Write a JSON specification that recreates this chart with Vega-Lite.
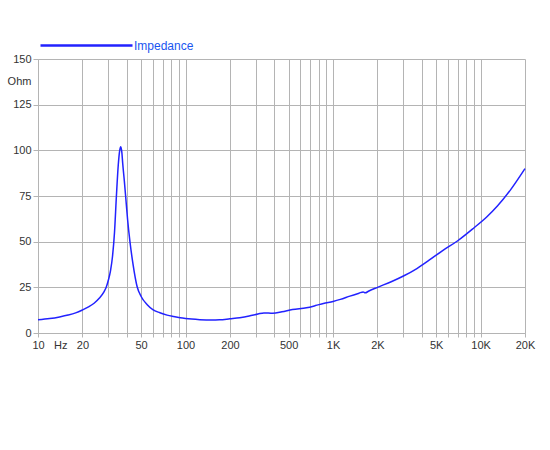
{
  "$schema": "https://vega.github.io/schema/vega-lite/v6.json",
  "width": 487,
  "height": 274,
  "autosize": "none",
  "padding": {"left": 38, "top": 59, "right": 25, "bottom": 117},
  "background": "white",
  "config": {
    "view": {"stroke": null},
    "font": "Liberation Sans",
    "axis": {
      "labelFont": "Liberation Sans",
      "labelFontSize": 11,
      "labelColor": "#333333",
      "gridColor": "#b4b4b4",
      "gridWidth": 1,
      "domainColor": "#b4b4b4",
      "tickColor": "#b4b4b4"
    }
  },
  "data": {
    "values": [
      {"f": 10, "z": 7.2, "s": "Impedance"},
      {"f": 12, "z": 7.9, "s": "Impedance"},
      {"f": 14, "z": 8.8, "s": "Impedance"},
      {"f": 16, "z": 9.8, "s": "Impedance"},
      {"f": 18, "z": 11.0, "s": "Impedance"},
      {"f": 20, "z": 12.6, "s": "Impedance"},
      {"f": 22, "z": 14.3, "s": "Impedance"},
      {"f": 24, "z": 16.3, "s": "Impedance"},
      {"f": 26, "z": 19.0, "s": "Impedance"},
      {"f": 28, "z": 22.5, "s": "Impedance"},
      {"f": 29, "z": 25.0, "s": "Impedance"},
      {"f": 30, "z": 29.0, "s": "Impedance"},
      {"f": 31, "z": 34.0, "s": "Impedance"},
      {"f": 32, "z": 42.0, "s": "Impedance"},
      {"f": 33, "z": 55.0, "s": "Impedance"},
      {"f": 34, "z": 75.0, "s": "Impedance"},
      {"f": 35, "z": 92.0, "s": "Impedance"},
      {"f": 35.8, "z": 100.0, "s": "Impedance"},
      {"f": 36.4, "z": 102.0, "s": "Impedance"},
      {"f": 37, "z": 99.0, "s": "Impedance"},
      {"f": 37.5, "z": 93.0, "s": "Impedance"},
      {"f": 38.5, "z": 83.0, "s": "Impedance"},
      {"f": 39.3, "z": 74.6, "s": "Impedance"},
      {"f": 40.5, "z": 62.0, "s": "Impedance"},
      {"f": 42, "z": 50.0, "s": "Impedance"},
      {"f": 44, "z": 38.0, "s": "Impedance"},
      {"f": 47, "z": 25.3, "s": "Impedance"},
      {"f": 50, "z": 20.0, "s": "Impedance"},
      {"f": 55, "z": 15.5, "s": "Impedance"},
      {"f": 60, "z": 12.8, "s": "Impedance"},
      {"f": 67, "z": 11.1, "s": "Impedance"},
      {"f": 75, "z": 9.8, "s": "Impedance"},
      {"f": 83, "z": 9.0, "s": "Impedance"},
      {"f": 92, "z": 8.3, "s": "Impedance"},
      {"f": 100, "z": 7.9, "s": "Impedance"},
      {"f": 125, "z": 7.3, "s": "Impedance"},
      {"f": 150, "z": 7.1, "s": "Impedance"},
      {"f": 170, "z": 7.2, "s": "Impedance"},
      {"f": 200, "z": 7.8, "s": "Impedance"},
      {"f": 233, "z": 8.4, "s": "Impedance"},
      {"f": 270, "z": 9.3, "s": "Impedance"},
      {"f": 310, "z": 10.4, "s": "Impedance"},
      {"f": 340, "z": 11.0, "s": "Impedance"},
      {"f": 390, "z": 10.8, "s": "Impedance"},
      {"f": 450, "z": 11.6, "s": "Impedance"},
      {"f": 530, "z": 12.9, "s": "Impedance"},
      {"f": 660, "z": 13.8, "s": "Impedance"},
      {"f": 760, "z": 15.0, "s": "Impedance"},
      {"f": 860, "z": 16.2, "s": "Impedance"},
      {"f": 1000, "z": 17.3, "s": "Impedance"},
      {"f": 1120, "z": 18.4, "s": "Impedance"},
      {"f": 1300, "z": 20.2, "s": "Impedance"},
      {"f": 1500, "z": 21.8, "s": "Impedance"},
      {"f": 1600, "z": 22.5, "s": "Impedance"},
      {"f": 1650, "z": 22.0, "s": "Impedance"},
      {"f": 1750, "z": 23.0, "s": "Impedance"},
      {"f": 2000, "z": 25.0, "s": "Impedance"},
      {"f": 2500, "z": 28.2, "s": "Impedance"},
      {"f": 3000, "z": 31.2, "s": "Impedance"},
      {"f": 3700, "z": 35.3, "s": "Impedance"},
      {"f": 4500, "z": 40.0, "s": "Impedance"},
      {"f": 5500, "z": 45.0, "s": "Impedance"},
      {"f": 7000, "z": 50.5, "s": "Impedance"},
      {"f": 9000, "z": 57.5, "s": "Impedance"},
      {"f": 11000, "z": 63.5, "s": "Impedance"},
      {"f": 13000, "z": 69.5, "s": "Impedance"},
      {"f": 16000, "z": 78.5, "s": "Impedance"},
      {"f": 20000, "z": 90.0, "s": "Impedance"}
    ]
  },
  "mark": {"type": "line", "strokeWidth": 1.5, "interpolate": "monotone"},
  "encoding": {
    "x": {
      "field": "f",
      "type": "quantitative",
      "scale": {"type": "log", "domain": [10, 20000], "nice": false},
      "axis": {
        "title": null,
        "values": [10, 14.14, 20, 30, 40, 50, 60, 70, 80, 90, 100, 200, 300, 400, 500, 600, 700, 800, 900, 1000, 2000, 3000, 4000, 5000, 6000, 7000, 8000, 9000, 10000, 20000],
        "labelExpr": "datum.value == 14.14 ? 'Hz' : (indexof([10,20,50,100,200,500,1000,2000,5000,10000,20000], datum.value) >= 0 ? (datum.value >= 1000 ? (datum.value / 1000) + 'K' : '' + datum.value) : '')",
        "labelOverlap": false,
        "labelFlush": false,
        "labelPadding": 2,
        "tickSize": 4,
        "gridOpacity": {"condition": {"test": "datum.value == 14.14", "value": 0}, "value": 1},
        "tickOpacity": {"condition": {"test": "datum.value == 14.14", "value": 0}, "value": 1}
      }
    },
    "y": {
      "field": "z",
      "type": "quantitative",
      "scale": {"domain": [0, 150], "nice": false},
      "axis": {
        "values": [0, 25, 50, 75, 100, 125, 150],
        "title": "Ohm",
        "titleAngle": 0,
        "titleX": -19,
        "titleY": 22,
        "titleAlign": "center",
        "titleBaseline": "middle",
        "titleFont": "Liberation Sans",
        "titleFontSize": 11,
        "titleFontWeight": "normal",
        "titleColor": "#333333",
        "tickSize": 5,
        "labelPadding": 2
      }
    },
    "color": {
      "field": "s",
      "type": "nominal",
      "scale": {"domain": ["Impedance"], "range": ["#2222ff"]},
      "legend": {
        "title": null,
        "orient": "none",
        "legendX": 1,
        "legendY": -61,
        "symbolType": "stroke",
        "symbolSize": 8464,
        "symbolStrokeWidth": 2.5,
        "symbolStrokeColor": "#1a55f0",
        "labelColor": "#1a55f0",
        "labelFont": "Liberation Sans",
        "labelFontSize": 12,
        "labelOffset": 0
      }
    }
  }
}
